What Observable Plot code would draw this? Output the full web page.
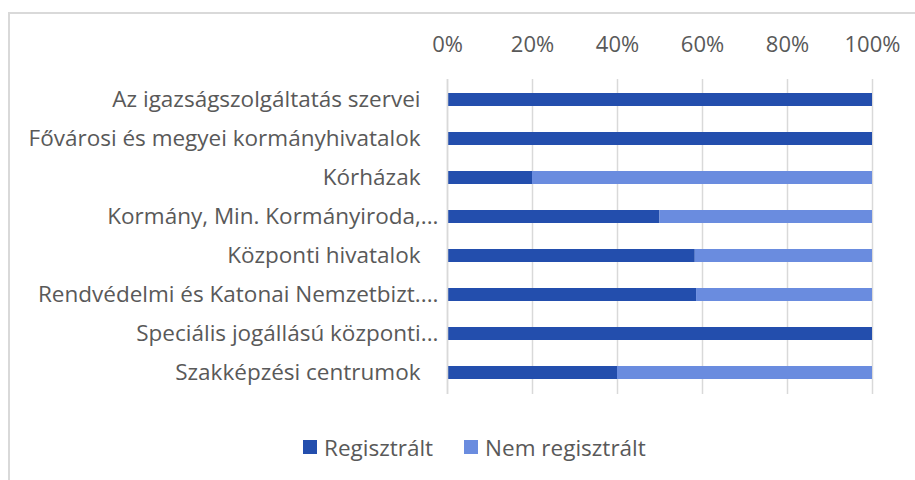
<!DOCTYPE html>
<html>
<head>
<meta charset="utf-8">
<script src="https://cdn.jsdelivr.net/npm/d3@7"></script>
<script src="https://cdn.jsdelivr.net/npm/@observablehq/plot@0.6"></script>
<style>
  html, body { margin: 0; padding: 0; background: #fff; overflow: hidden; }
  #wrap { position: relative; width: 915px; height: 480px; overflow: hidden; font-family: "Open Sans", sans-serif; }
  #frame { position: absolute; left: 8px; top: 12px; width: 1000px; height: 1000px; border: 2px solid #d9d9d9; box-sizing: border-box; }
  #chart { position: absolute; left: 0; top: 0; }
  #legend { position: absolute; left: 303px; top: 430px; height: 34px; display: flex; align-items: center; color: #595959; font-size: 22.5px; }
  .item { display: flex; align-items: center; margin-right: 31px; }
  .sw { width: 14px; height: 14px; margin-right: 7px; }
</style>
</head>
<body>
<div id="wrap">
  <div id="frame"></div>
  <div id="chart"></div>
  <div id="legend"></div>
</div>
<script>
const categories = [
  "Az igazságszolgáltatás szervei",
  "Fővárosi és megyei kormányhivatalok",
  "Kórházak",
  "Kormány, Min. Kormányiroda,...",
  "Központi hivatalok",
  "Rendvédelmi és Katonai Nemzetbizt....",
  "Speciális jogállású központi...",
  "Szakképzési centrumok"
];
const series = ["Regisztrált", "Nem regisztrált"];
const regisztralt =    [1.00, 1.00, 0.20, 0.50, 0.583, 0.586, 1.00, 0.40];
const nemRegisztralt = [0.00, 0.00, 0.80, 0.50, 0.417, 0.414, 0.00, 0.60];
const xTicks = [0, 0.2, 0.4, 0.6, 0.8, 1.0];
const colors = ["#234EAD", "#6A8CDF"];

const rows = [];
categories.forEach((c, i) => {
  rows.push({cat: c, series: series[0], value: regisztralt[i]});
  rows.push({cat: c, series: series[1], value: nemRegisztralt[i]});
});

const truncated = categories.filter(c => c.endsWith("..."));
const plain = categories.filter(c => !c.endsWith("..."));

const textColor = "#595959";
const fontSize = 22.5;

const chart = Plot.plot({
  width: 915,
  height: 410,
  marginTop: 79,
  marginBottom: 16,
  marginLeft: 447,
  marginRight: 43,
  style: {fontFamily: "'Open Sans', sans-serif", color: textColor, background: "transparent", overflow: "visible"},
  x: {domain: [0, 1], axis: null},
  y: {domain: categories, axis: null, paddingInner: 0.66, paddingOuter: 0.33},
  color: {domain: series, range: colors},
  marks: [
    Plot.gridX(xTicks, {stroke: "#d9d9d9", strokeOpacity: 1, strokeWidth: 1.5}),
    Plot.axisX(xTicks, {anchor: "top", tickSize: 0, tickPadding: 0, dy: -28, tickFormat: d => Math.round(d * 100) + "%", fontSize: 22, fill: textColor, label: null}),
    Plot.barX(rows, Plot.stackX({x: "value", y: "cat", fill: "series", order: series})),
    Plot.ruleX([0], {stroke: "#d9d9d9", strokeWidth: 1.5}),
    Plot.text(plain, {x: 0, y: d => d, text: d => d, textAnchor: "end", dx: -27, fontSize, fill: textColor}),
    Plot.text(truncated, {x: 0, y: d => d, text: d => d, textAnchor: "end", dx: -9, fontSize, fill: textColor})
  ]
});
document.getElementById("chart").appendChild(chart);

const legend = document.getElementById("legend");
series.forEach((s, i) => {
  const it = document.createElement("div");
  it.className = "item";
  const sw = document.createElement("div");
  sw.className = "sw";
  sw.style.background = colors[i];
  const t = document.createElement("span");
  t.textContent = s;
  it.appendChild(sw); it.appendChild(t);
  legend.appendChild(it);
});
</script>
</body>
</html>
